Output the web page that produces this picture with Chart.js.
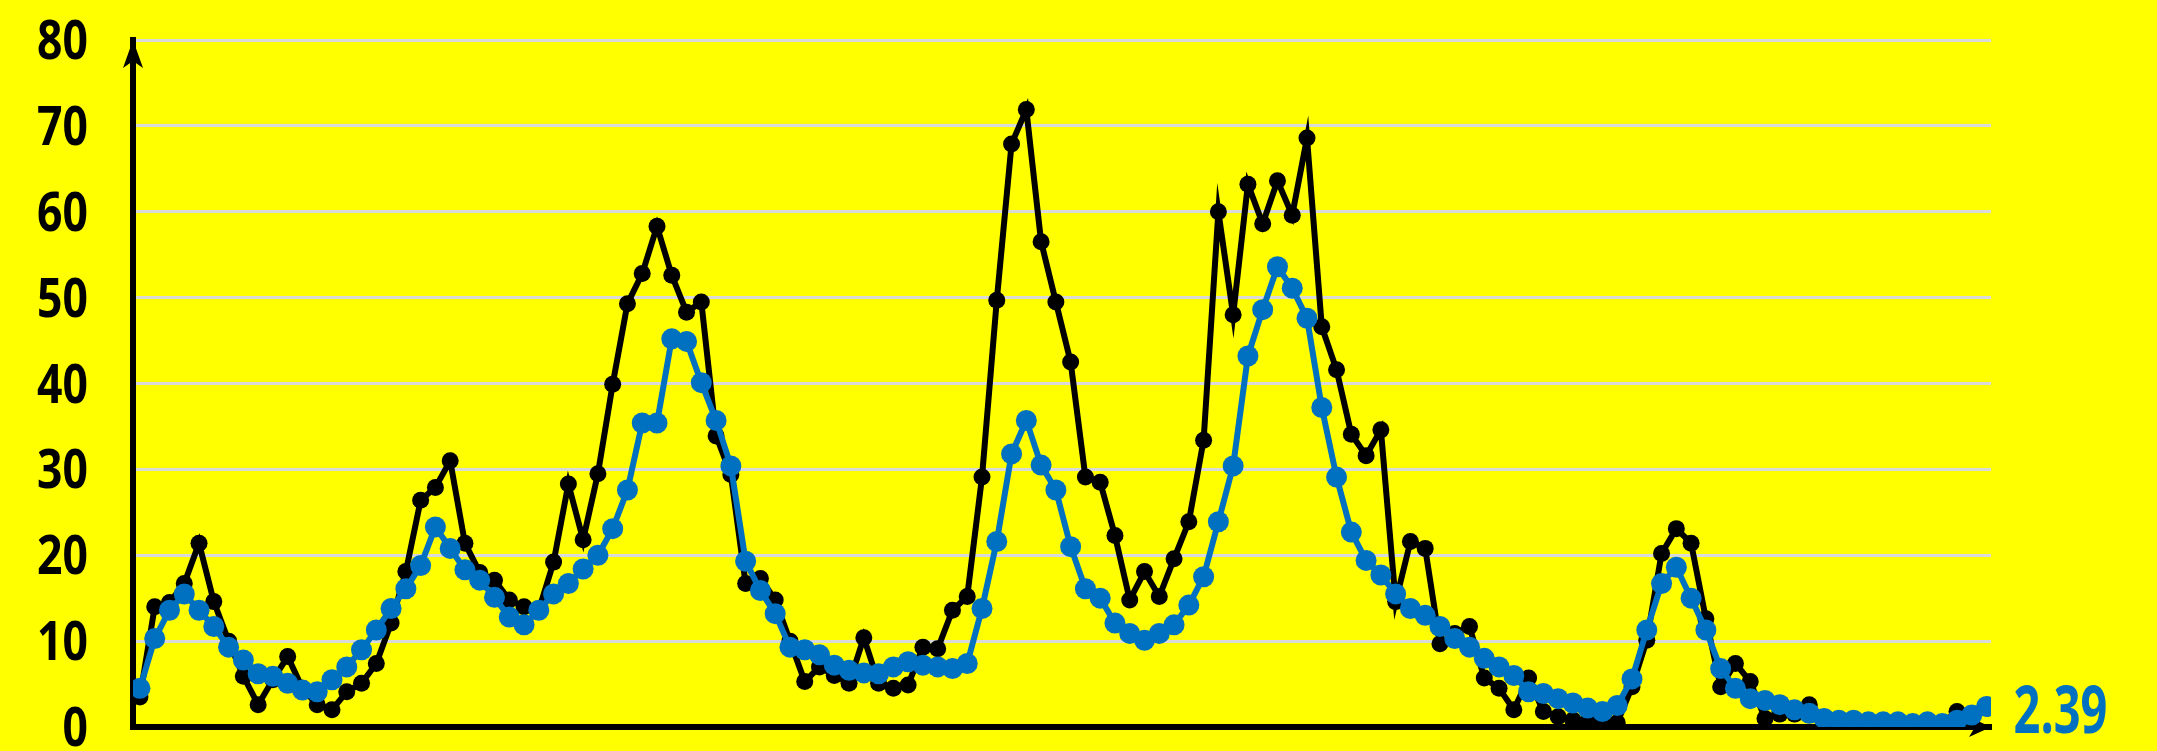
<!DOCTYPE html>
<html>
<head>
<meta charset="utf-8">
<script src="https://cdn.jsdelivr.net/npm/chart.js@4.4.1/dist/chart.umd.min.js"></script>
<style>
  html, body { margin: 0; padding: 0; background: #ffff00; }
  #wrap { width: 2157px; height: 751px; position: relative; }
</style>
</head>
<body>
<div id="wrap"><canvas id="chart"></canvas></div>
<script>
// weekly values
const rawCases = [
  3.5, 14.0, 14.5, 16.7, 21.4, 14.6, 10.0, 5.9, 2.6, 5.5,
  8.2, 4.5, 2.6, 2.0, 4.1, 5.1, 7.4, 12.1, 18.1, 26.4,
  27.9, 31.0, 21.4, 18.0, 17.1, 14.8, 14.0, 13.6, 19.2, 28.3,
  21.8, 29.5, 39.9, 49.3, 52.8, 58.3, 52.6, 48.3, 49.5, 33.9,
  29.4, 16.7, 17.3, 14.8, 10.0, 5.3, 7.0, 6.0, 5.1, 10.4,
  5.1, 4.5, 4.9, 9.3, 9.1, 13.6, 15.2, 29.1, 49.7, 67.9,
  71.9, 56.5, 49.5, 42.5, 29.1, 28.5, 22.3, 14.8, 18.1, 15.2,
  19.6, 23.9, 33.4, 60.0, 48.0, 63.2, 58.6, 63.6, 59.6, 68.6,
  46.6, 41.6, 34.1, 31.6, 34.6, 14.6, 21.6, 20.8, 9.7, 10.9,
  11.7, 5.7, 4.5, 2.0, 5.7, 1.8, 1.2, 0.8, 0.6, 0.5,
  0.5, 4.7, 10.1, 20.2, 23.1, 21.4, 12.6, 4.7, 7.4, 5.3,
  1.0, 1.5, 1.5, 2.6, 0.2, 0.4, 0.4, 0.3, 0.3, 0.3,
  0.3, 0.4, 0.5, 1.8, 1.0, 2.2
];

const avgCases = [
  4.5, 10.3, 13.6, 15.5, 13.6, 11.7, 9.3, 7.8, 6.2, 5.9,
  5.1, 4.3, 4.1, 5.5, 7.0, 9.0, 11.3, 13.8, 16.1, 18.8,
  23.3, 20.8, 18.3, 17.1, 15.1, 12.8, 11.9, 13.6, 15.5, 16.7,
  18.4, 20.0, 23.1, 27.6, 35.4, 35.4, 45.2, 44.9, 40.1, 35.7,
  30.4, 19.3, 15.9, 13.2, 9.3, 9.0, 8.4, 7.2, 6.6, 6.3,
  6.2, 7.0, 7.6, 7.2, 7.0, 6.8, 7.4, 13.8, 21.6, 31.8,
  35.7, 30.5, 27.6, 21.0, 16.1, 15.0, 12.1, 10.9, 10.1, 10.9,
  11.9, 14.2, 17.5, 23.9, 30.4, 43.2, 48.6, 53.6, 51.1, 47.6,
  37.2, 29.1, 22.7, 19.4, 17.7, 15.5, 13.8, 13.0, 11.7, 10.3,
  9.3, 8.0, 7.0, 6.0, 4.1, 3.9, 3.3, 2.8, 2.2, 1.8,
  2.5, 5.6, 11.3, 16.7, 18.6, 15.0, 11.3, 6.8, 4.5, 3.3,
  3.1, 2.6, 2.0, 1.6, 1.0, 0.8, 0.8, 0.6, 0.6, 0.6,
  0.4, 0.6, 0.4, 0.8, 1.4, 2.39
];

const yTickValues = [0, 10, 20, 30, 40, 50, 60, 70, 80];
const lastLabel = '2.39';

const toPoints = arr => arr.map((v, i) => ({ x: i, y: v }));

// yellow page
const bgPlugin = {
  id: 'bg',
  beforeDraw(chart) {
    const { ctx, width, height } = chart;
    ctx.save();
    ctx.fillStyle = '#ffff00';
    ctx.fillRect(0, 0, width, height);
    ctx.restore();
  }
};

// arrow heads on both axes
const axisArrows = {
  id: 'axisArrows',
  beforeDatasetsDraw(chart) {
    const { ctx, chartArea: a } = chart;
    ctx.save();
    ctx.fillStyle = '#000';
    ctx.beginPath();
    ctx.moveTo(a.left, a.top);
    ctx.lineTo(a.left - 10, a.top + 28);
    ctx.lineTo(a.left, a.top + 21);
    ctx.lineTo(a.left + 10, a.top + 28);
    ctx.closePath();
    ctx.fill();
    ctx.beginPath();
    ctx.moveTo(a.right, a.bottom);
    ctx.lineTo(a.right - 22, a.bottom - 10);
    ctx.lineTo(a.right - 16, a.bottom);
    ctx.lineTo(a.right - 22, a.bottom + 10);
    ctx.closePath();
    ctx.fill();
    ctx.restore();
  }
};

// narrow bold tick labels, placed with the y scale
const yLabels = {
  id: 'yLabels',
  afterDraw(chart) {
    const { ctx, chartArea: a } = chart;
    const y = chart.scales.y;
    ctx.save();
    ctx.fillStyle = '#000';
    ctx.font = 'bold 53px "Open Sans", sans-serif';
    ctx.textAlign = 'right';
    ctx.textBaseline = 'alphabetic';
    yTickValues.forEach(v => {
      const py = y.getPixelForValue(v);
      ctx.save();
      ctx.translate(a.left - 45, py + 19);
      ctx.scale(0.84, 1);
      ctx.fillText(String(v), 0, 0);
      ctx.restore();
    });
    ctx.restore();
  }
};

// value label next to the last blue point
const endLabel = {
  id: 'endLabel',
  afterDatasetsDraw(chart) {
    const meta = chart.getDatasetMeta(0);
    const last = meta.data[meta.data.length - 1];
    if (!last) return;
    const { ctx } = chart;
    ctx.save();
    ctx.fillStyle = '#0070c0';
    ctx.font = 'bold 67px "Open Sans", sans-serif';
    ctx.textAlign = 'left';
    ctx.textBaseline = 'alphabetic';
    ctx.translate(last.x + 27, last.y + 27);
    ctx.scale(0.7, 1);
    ctx.fillText(lastLabel, 0, 0);
    ctx.restore();
  }
};

new Chart(document.getElementById('chart'), {
  type: 'line',
  data: {
    datasets: [
      {
        label: 'average',
        data: toPoints(avgCases),
        borderColor: '#0070c0',
        backgroundColor: '#0070c0',
        borderWidth: 6,
        pointRadius: 10.5,
        pointBorderWidth: 0,
        tension: 0
      },
      {
        label: 'weekly',
        data: toPoints(rawCases),
        borderColor: '#000000',
        backgroundColor: '#000000',
        borderWidth: 6,
        pointRadius: 8.5,
        pointBorderWidth: 0,
        tension: 0
      }
    ]
  },
  options: {
    responsive: true,
    maintainAspectRatio: false,
    animation: false,
    layout: {
      autoPadding: false,
      padding: { left: 0, right: 166, top: 40, bottom: 24 }
    },
    plugins: {
      legend: { display: false },
      tooltip: { enabled: false }
    },
    scales: {
      x: {
        type: 'linear',
        min: -0.47,
        max: 125.3,
        afterFit: scale => {
          scale.height = 0;
        },
        ticks: { display: false },
        grid: { display: false, drawTicks: false },
        border: { display: true, color: '#000', width: 6 }
      },
      y: {
        min: 0,
        max: 80,
        afterBuildTicks: scale => {
          scale.ticks = yTickValues.map(v => ({ value: v }));
        },
        afterFit: scale => {
          scale.width = 133;
        },
        ticks: { display: false },
        grid: { color: '#d9d9d9', lineWidth: 3, drawTicks: false },
        border: { display: true, color: '#000', width: 6 }
      }
    }
  },
  plugins: [bgPlugin, axisArrows, yLabels, endLabel]
});
</script>
</body>
</html>
